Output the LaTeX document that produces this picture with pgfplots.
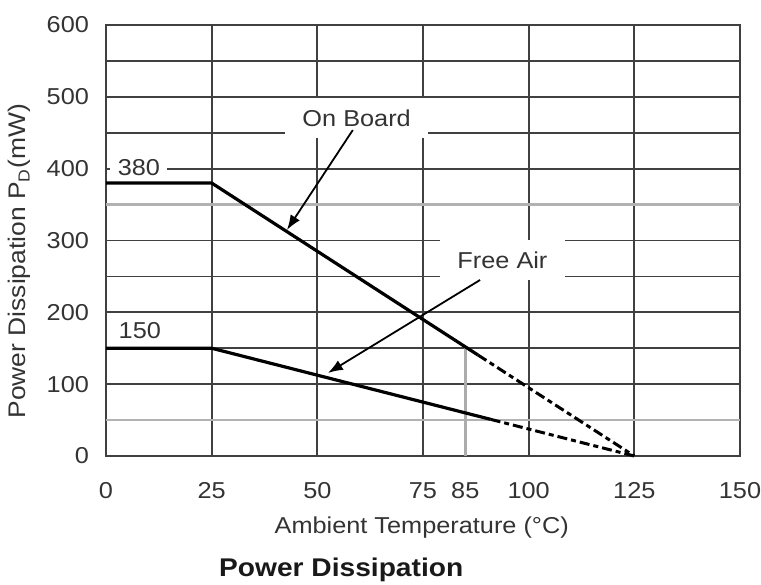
\documentclass[border=0pt]{standalone}
\usepackage{pgfplots}
\pgfplotsset{compat=1.18}
\usepackage{fontspec}
\setmainfont{Liberation Sans}[FakeStretch=1.1]
\usetikzlibrary{arrows.meta}
\definecolor{gridc}{HTML}{404040}
\definecolor{txtc}{HTML}{333333}
\begin{document}
\begin{tikzpicture}
\begin{axis}[
  scale only axis, width=317pt, height=215.5pt,
  xmin=0, xmax=150, ymin=0, ymax=600,
  xtick={0,25,50,75,100,125,150},
  extra x ticks={85}, extra x tick style={grid=none},
  ytick={0,100,...,600},
  minor ytick={50,150,...,550},
  grid=both,
  major grid style={gridc, line width=0.9pt},
  minor grid style={gridc, line width=0.9pt},
  axis line style={gridc, line width=0.9pt},
  major tick length=0pt, minor tick length=0pt,
  /pgf/number format/assume math mode=true,
  tick label style={font=\fontsize{11.5}{13}\selectfont, text=txtc},
  xticklabel style={yshift=-9pt, text height=8.5pt, text depth=0pt},
  yticklabel style={xshift=-5pt},
  xlabel={Ambient Temperature (°C)},
  xlabel style={at={(axis description cs:0.498,-0.167)}, anchor=center, font=\fontsize{11.5}{13}\selectfont, text=txtc},
  ylabel={Power Dissipation P\textsubscript{D}(mW)},
  ylabel style={at={(axis description cs:-0.136,0.452)}, anchor=center, font=\fontsize{12}{14}\selectfont, text=txtc},
  clip=false,
]
% lighter, thicker grid lines
\draw[gray!60, line width=1.4pt] (axis cs:0,350) -- (axis cs:150,350);
\draw[gray!60, line width=1.4pt] (axis cs:0,50) -- (axis cs:150,50);
% 85 degC marker line
\addplot[gray!65, line width=1.3pt] coordinates {(85,0) (85,152)};
% On Board curve
\addplot[black, line width=1.6pt] coordinates {(0,380) (25,380) (88,140.6)};
\addplot[black, line width=1.5pt, dash pattern=on 5pt off 2pt on 2.5pt off 2pt] coordinates {(88,140.6) (125,0)};
% Free Air curve
\addplot[black, line width=1.6pt] coordinates {(0,150) (25,150) (91,51)};
\addplot[black, line width=1.5pt, dash pattern=on 5pt off 2pt on 2.5pt off 2pt] coordinates {(91,51) (125,0)};
% labels
\node[fill=white, inner sep=0pt, minimum width=28.5pt, minimum height=11pt, font=\fontsize{11.5}{13}\selectfont, text=txtc] at (axis cs:7.8,401.6) {380};
\node[inner sep=0pt, font=\fontsize{11.5}{13}\selectfont, text=txtc] at (axis cs:8.0,174) {150};
\node[fill=white, inner sep=0pt, minimum width=71.5pt, minimum height=20pt, font=\fontsize{11.5}{13}\selectfont, text=txtc] at (axis cs:59.3,470) {On Board};
\node[fill=white, inner sep=0pt, minimum width=62.5pt, minimum height=20pt, font=\fontsize{11.5}{13}\selectfont, text=txtc] at (axis cs:93.8,272.8) {Free Air};
\draw[black, line width=0.9pt, -{Latex[length=7.5pt,width=5.5pt]}] (axis cs:58.4,453.8) -- (axis cs:42.8,314.6);
\draw[black, line width=0.9pt, -{Latex[length=7.5pt,width=5.5pt]}] (axis cs:88.5,245) -- (axis cs:52.5,115.5);
\node[font=\bfseries\fontsize{12.8}{15}\selectfont, text=black!90] at (axis description cs:0.371,-0.2645) {Power Dissipation};
\end{axis}
\pgfresetboundingbox
\path (current axis.south west) ++(-53pt,-64.5pt) coordinate (bbA);
\path (current axis.north east) ++(10.5pt,12.5pt) coordinate (bbB);
\path[use as bounding box] (bbA) rectangle (bbB);
\end{tikzpicture}
\end{document}
